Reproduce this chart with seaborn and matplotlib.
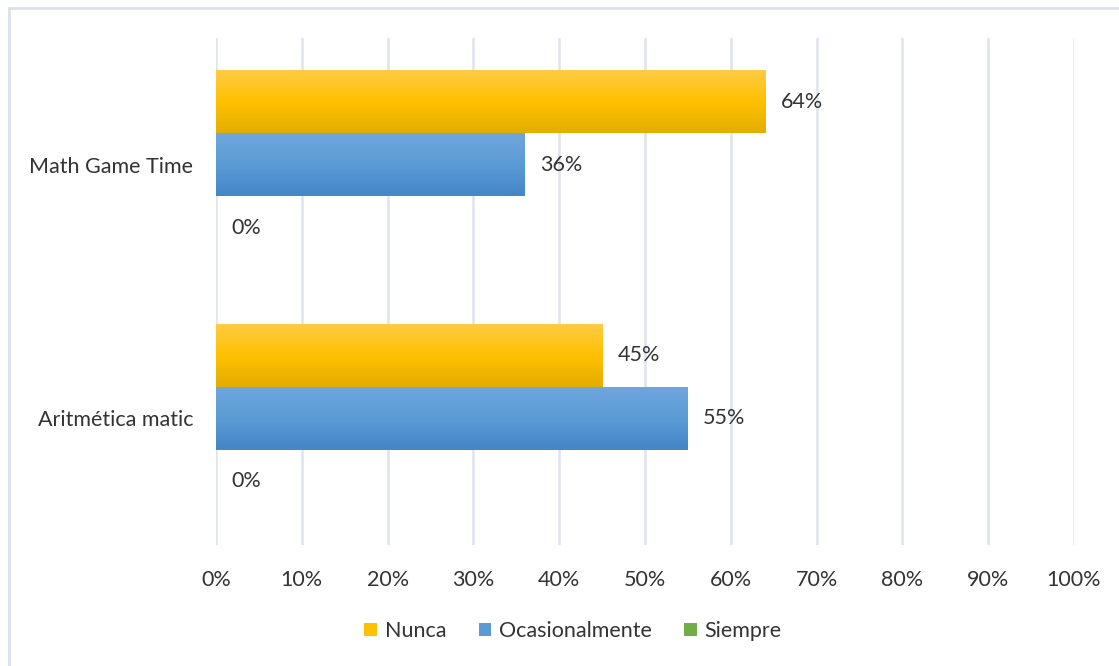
import numpy as np
import pandas as pd
import matplotlib
matplotlib.use("Agg")
import matplotlib.pyplot as plt
import seaborn as sns
from matplotlib.colors import LinearSegmentedColormap
from matplotlib.patches import Rectangle, Patch

categories = ["Math Game Time", "Aritmética matic"]
series = ["Nunca", "Ocasionalmente", "Siempre"]
nunca = [64, 45]
ocasionalmente = [36, 55]
siempre = [0, 0]
xticks = [0, 10, 20, 30, 40, 50, 60, 70, 80, 90, 100]

colors = {"Nunca": "#FFC000", "Ocasionalmente": "#5B9BD5", "Siempre": "#70AD47"}
grads = {
    "Nunca": ["#FFCB45", "#FFC000", "#E2AE00"],
    "Ocasionalmente": ["#6FA6DD", "#5B9BD5", "#4486C6"],
    "Siempre": ["#82BD5A", "#70AD47", "#5E9A38"],
}

rows = []
for i, c in enumerate(categories):
    for s, vals in zip(series, [nunca, ocasionalmente, siempre]):
        rows.append({"cat": c, "serie": s, "val": vals[i]})
df = pd.DataFrame(rows)

sns.set_theme(style="white")
plt.rcParams["font.family"] = ["Lato", "DejaVu Sans"]
FS = 15.5
TXT = "#333333"

fig = plt.figure(figsize=(11.19, 6.66), dpi=100)
ax = fig.add_axes([216 / 1119, 1 - 545 / 666, (1074 - 216) / 1119, (545 - 38) / 666])

sns.barplot(data=df, y="cat", x="val", hue="serie", order=categories,
            hue_order=series, palette=colors, orient="h", width=0.745,
            ax=ax, legend=False, saturation=1, edgecolor="none")

ax.set_xlim(0, 100)
ax.set_xticks(xticks)
ax.set_xticklabels([f"{t}%" for t in xticks], fontsize=FS, color=TXT)
ax.tick_params(axis="y", labelsize=FS, labelcolor=TXT, pad=16.5, length=0)
ax.tick_params(axis="x", pad=18, length=0)
ax.set_xlabel("")
ax.set_ylabel("")
for sp in ax.spines.values():
    sp.set_visible(False)
ax.grid(axis="x", color="#DFE3EB", linewidth=1.8)
ax.set_axisbelow(True)

# gradient fills clipped to each bar
for container, s in zip(ax.containers, series):
    cmap = LinearSegmentedColormap.from_list(s, grads[s])
    for bar in container:
        x0, y0 = bar.get_x(), bar.get_y()
        w, h = bar.get_width(), bar.get_height()
        if w <= 0:
            continue
        grad = np.linspace(0, 1, 100).reshape(-1, 1)
        im = ax.imshow(grad, cmap=cmap, aspect="auto",
                       extent=[x0, x0 + w, y0 + h, y0], zorder=bar.get_zorder() + 0.1)
        im.set_clip_path(bar)
    ax.bar_label(container, labels=[f"{v:.0f}%" for v in container.datavalues],
                 padding=11, fontsize=FS, color=TXT)

ax.set_ylim(1.5, -0.5)

handles = [Patch(facecolor=colors[s], edgecolor="none") for s in series]
fig.legend(handles, series, loc="center", bbox_to_anchor=(573 / 1119, 1 - 631 / 666),
           ncol=3, frameon=False, fontsize=FS, handlelength=0.6, handleheight=0.6,
           handletextpad=0.35, columnspacing=1.5, labelcolor=TXT)

fig.patches.append(Rectangle((9 / 1119, -0.1), 1.2, 1 - 8 / 666 + 0.1,
                             transform=fig.transFigure, fill=False,
                             edgecolor="#DDE1EA", linewidth=2, zorder=0))

fig.savefig("out.png", dpi=100)
